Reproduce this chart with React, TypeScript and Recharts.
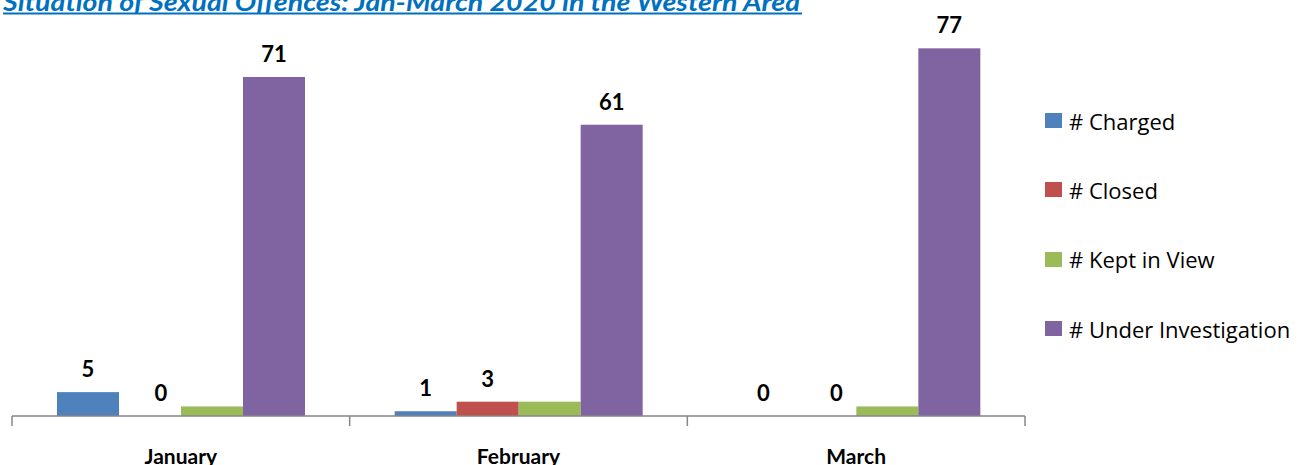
import React from 'react';
import { BarChart, Bar, XAxis, YAxis } from 'recharts';

const months = ['January', 'February', 'March'];
const charged = [5, 1, 0];
const closed = [0, 3, 0];
const keptInView = [2, 3, 2];
const underInvestigation = [71, 61, 77];

const seriesNames = ['# Charged', '# Closed', '# Kept in View', '# Under Investigation'];
const colors = ['#4F81BD', '#C0504D', '#9BBB59', '#8064A2'];

const data = months.map((m, i) => ({
  month: m,
  charged: charged[i],
  closed: closed[i],
  kept: keptInView[i],
  under: underInvestigation[i],
}));

const W = 1299;
const H = 465;
const margin = { top: 34, right: 274, left: 12, bottom: 0 };
const plotWidth = W - margin.left - margin.right;
const catWidth = plotWidth / months.length;
const font = 'Lato, "Open Sans", sans-serif';

const MonthTick = (props: any) => {
  const { x, y, payload, index } = props;
  const left = x - catWidth / 2;
  const right = x + catWidth / 2;
  return (
    <g>
      <line x1={left} y1={y} x2={left} y2={y + 10} stroke="#868686" strokeWidth={1.5} />
      {index === months.length - 1 && (
        <line x1={right} y1={y} x2={right} y2={y + 10} stroke="#868686" strokeWidth={1.5} />
      )}
      <text
        x={x}
        y={y + 48}
        textAnchor="middle"
        fontFamily={font}
        fontWeight={700}
        fontSize={21}
        fill="#000"
      >
        {payload.value}
      </text>
    </g>
  );
};

// bar + its value label; excel nudges the zero "Closed" labels a bit to the right
const makeShape = (fill: string, showLabel: boolean, shiftZero: boolean) => (props: any) => {
  const { x, y, width, height, value } = props;
  const v = Array.isArray(value) ? value[1] - value[0] : value;
  const dx = shiftZero && v === 0 ? 11 : 0;
  return (
    <g>
      {height > 0 && <rect x={x} y={y} width={width} height={height} fill={fill} />}
      {showLabel && (
        <text
          x={x + width / 2 + dx}
          y={y - 15}
          textAnchor="middle"
          fontFamily={font}
          fontWeight={700}
          fontSize={22}
          fill="#000"
        >
          {v}
        </text>
      )}
    </g>
  );
};

const LegendBox = () => (
  <div
    style={{
      position: 'absolute',
      left: 1045,
      top: 86,
      width: 254,
      fontFamily: '"Open Sans", sans-serif',
      fontSize: 22,
      color: '#000',
    }}
  >
    {seriesNames.map((name, i) => (
      <div key={name} style={{ height: 69.3, display: 'flex', alignItems: 'center', whiteSpace: 'nowrap' }}>
        <span
          style={{
            display: 'inline-block',
            width: 17,
            height: 15,
            background: colors[i],
            marginRight: 7,
          }}
        />
        <span>{name}</span>
      </div>
    ))}
  </div>
);

export default function App() {
  return (
    <div style={{ position: 'absolute', left: 0, top: 0, width: W, height: H, background: '#fff', overflow: 'hidden' }}>
      <BarChart
        width={W}
        height={H}
        data={data}
        margin={margin}
        barCategoryGap={45}
        barGap={0}
        style={{ position: 'absolute', left: 0, top: 0 }}
      >
        <XAxis
          dataKey="month"
          height={49}
          axisLine={{ stroke: '#868686', strokeWidth: 1.5 }}
          tickLine={false}
          tickSize={0}
          tickMargin={0}
          tick={<MonthTick />}
          interval={0}
        />
        <YAxis hide domain={[0, 80]} />
        <Bar dataKey="charged" name={seriesNames[0]} fill={colors[0]} isAnimationActive={false}
          shape={makeShape(colors[0], true, false)} />
        <Bar dataKey="closed" name={seriesNames[1]} fill={colors[1]} isAnimationActive={false}
          shape={makeShape(colors[1], true, true)} />
        <Bar dataKey="kept" name={seriesNames[2]} fill={colors[2]} isAnimationActive={false}
          shape={makeShape(colors[2], false, false)} />
        <Bar dataKey="under" name={seriesNames[3]} fill={colors[3]} isAnimationActive={false}
          shape={makeShape(colors[3], true, false)} />
      </BarChart>
      <svg width={W} height={24} style={{ position: 'absolute', left: 0, top: 0 }}>
        <text
          x={3}
          y={11}
          textLength={797}
          lengthAdjust="spacingAndGlyphs"
          fontFamily={font}
          fontStyle="italic"
          fontWeight={700}
          fontSize={24}
          fill="#0070C0"
        >
          Situation of Sexual Offences: Jan-March 2020 in the Western Area
        </text>
        <line x1={3} y1={13.5} x2={802} y2={13.5} stroke="#0070C0" strokeWidth={2} />
      </svg>
      <LegendBox />
    </div>
  );
}
